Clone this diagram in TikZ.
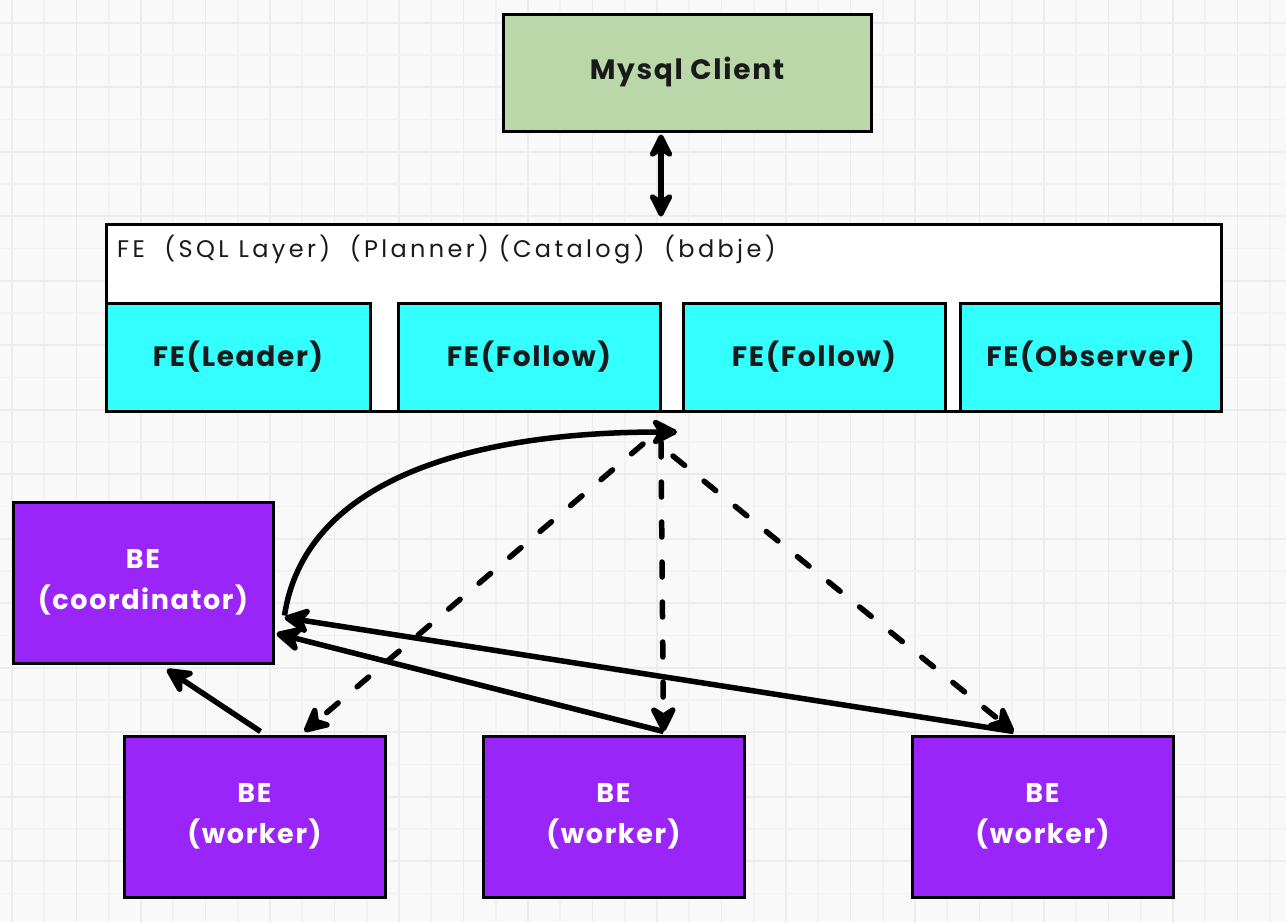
\documentclass[tikz,border=0pt]{standalone}
\usepackage{fontspec}
\setmainfont{Poppins}
\newfontfamily\lblfont[LetterSpace=6]{Poppins}
\newfontfamily\hdrfont[LetterSpace=14]{Poppins}
\usetikzlibrary{arrows.meta,calc}
\definecolor{bgc}{HTML}{F9F9F9}
\definecolor{gridmaj}{HTML}{ECECEC}
\definecolor{gridmin}{HTML}{F2F2F2}
\definecolor{mysqlc}{HTML}{B9D7A9}
\definecolor{cyanc}{HTML}{33FFFF}
\definecolor{purplec}{HTML}{9A25F9}
\definecolor{inkc}{HTML}{1A1A1A}
\begin{document}
\begin{tikzpicture}[x=1pt,y=-1pt,
  box/.style={draw=black, line width=3pt, inner sep=0pt, align=center,
    font=\lblfont\fontsize{28}{34}\bfseries\selectfont, text=inkc},
  bebox/.style={box, fill=purplec, text=white, minimum width=261pt, minimum height=161pt,
    font=\lblfont\fontsize{27}{41}\bfseries\selectfont},
  febox/.style={box, fill=cyanc, minimum height=108pt},
  arr/.style={draw=black, line width=5.5pt, -{Stealth[length=32pt,width=32pt,inset=10pt,round]}},
  dbl/.style={draw=black, line width=5.5pt, {Stealth[length=30pt,width=30pt,inset=10pt,round]}-{Stealth[length=30pt,width=30pt,inset=10pt,round]}},
  dsh/.style={draw=black, line width=5.5pt, line cap=round, dash pattern=on 15pt off 25pt,
    -{Stealth[length=32pt,width=32pt,inset=10pt,round]}}
]
\useasboundingbox (0,0) rectangle (1286,922);
\fill[bgc] (0,0) rectangle (1286,922);
\foreach \k in {0,...,39} {
  \pgfmathsetmacro{\gx}{12+32.25*\k}
  \ifodd\k \def\gc{gridmin}\else\def\gc{gridmaj}\fi
  \draw[\gc, line width=1.8pt] (\gx,0) -- (\gx,922);
}
\foreach \k in {0,...,28} {
  \pgfmathsetmacro{\gy}{22.7+32.25*\k}
  \ifodd\k \def\gc{gridmin}\else\def\gc{gridmaj}\fi
  \draw[\gc, line width=1.8pt] (0,\gy) -- (1286,\gy);
}

\node[box, fill=mysqlc, minimum width=368pt, minimum height=117pt] (mysql) at (687,72.5) {Mysql Client};

\node[box, fill=white, minimum width=1115pt, minimum height=187pt] (fe) at (663.5,317.5) {};
\node[anchor=west, inner sep=0pt, text=inkc, font=\hdrfont\fontsize{24}{28}\selectfont] (fehdr) at (117,250)
  {FE\ \ (SQL Layer)\ \ (Planner) (Catalog)\ \ (bdbje)};

\node[febox, minimum width=264pt] (leader) at (238,357) {FE(Leader)};
\node[febox, minimum width=262pt] (fol1) at (529,357) {FE(Follow)};
\node[febox, minimum width=262pt] (fol2) at (814,357) {FE(Follow)};
\node[febox, minimum width=261pt] (obs) at (1090.5,357) {FE(Observer)};

\node[bebox, minimum width=260pt] (coord) at (143,582.5) {BE\\(coordinator)};
\node[bebox] (w1) at (254.5,816.5) {BE\\(worker)};
\node[bebox] (w2) at (613.5,816.5) {BE\\(worker)};
\node[bebox] (w3) at (1042.5,816.5) {BE\\(worker)};

\coordinate (hub) at (661,432);

\draw[dbl] ($(mysql.south -| hub)+(0,2)$) -- ($(fe.north -| hub)+(0,-6)$);

\draw[arr] ($(coord.east)+(10,33)$) .. controls (305,480) and (470,432) .. ($(hub)+(16,0)$);

\draw[dsh] ($(hub)+(-18,12)$) -- ($(w1.north)+(50,-3)$);
\draw[dsh] ($(hub)+(0,10)$) -- ($(w2.north)+(50,-3)$);
\draw[dsh] ($(hub)+(12,24)$) -- ($(w3.north)+(-29,-3)$);

\draw[arr] ($(w3.north)+(-29,-3)$) -- ($(coord.east)+(10,35)$);
\draw[arr] ($(w2.north)+(50,-3)$) -- ($(coord.east)+(2,51)$);
\draw[arr] ($(w1.north)+(6,-3)$) -- ($(coord.south)+(24,5)$);
\end{tikzpicture}
\end{document}
